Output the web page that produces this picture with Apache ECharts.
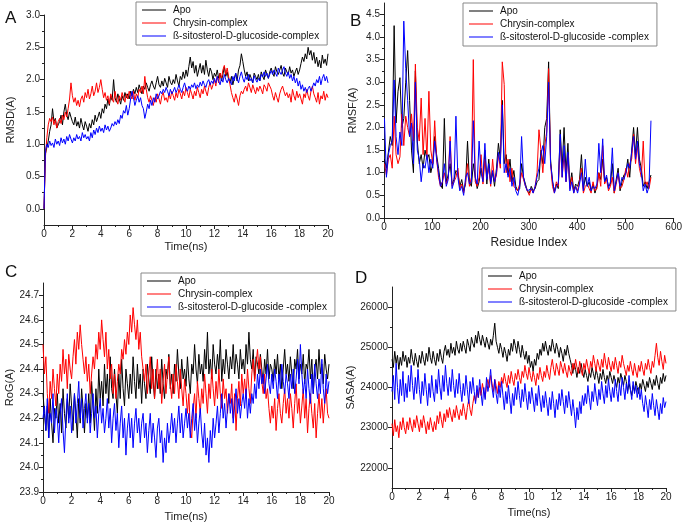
<!DOCTYPE html>
<html><head><meta charset="utf-8">
<script src="https://cdn.jsdelivr.net/npm/echarts@6/dist/echarts.min.js"></script>
<style>html,body{margin:0;padding:0;background:#fff}#c{width:685px;height:527px}</style>
</head><body><div id="c"></div>
<script>
// ---------- tick labels ----------
const timeTicks = [0,2,4,6,8,10,12,14,16,18,20];
const timeMinor = [1,3,5,7,9,11,13,15,17,19];
const rmsdTicks = [0,0.5,1,1.5,2,2.5,3];
const rmsdMinor = [0.25,0.75,1.25,1.75,2.25,2.75];
const rmsfTicks = [0,0.5,1,1.5,2,2.5,3,3.5,4,4.5];
const rmsfMinor = [0.25,0.75,1.25,1.75,2.25,2.75,3.25,3.75,4.25];
const resTicks = [0,100,200,300,400,500,600];
const resMinor = [50,150,250,350,450,550];
const rogTicks = [23.9,24.0,24.1,24.2,24.3,24.4,24.5,24.6,24.7];
const rogMinor = [23.95,24.05,24.15,24.25,24.35,24.45,24.55,24.65];
const sasaTicks = [22000,23000,24000,25000,26000];
const sasaMinor = [22500,23500,24500,25500];

// ---------- series names ----------
const nameApo = 'Apo';
const nameChr = 'Chrysin-complex';
const nameSitA = 'ß-sitosterol-D-glucoside-complex';
const nameSit = 'ß-sitosterol-D-glucoside -complex';

// sampling: time every 0.1 ns (0..20), residues every 4 (1..553)
const timeStep = 0.1;
const resStart = 1, resStep = 4;

// ---------- A: RMSD ----------
const rmsdApo = [0.00,0.85,0.95,1.05,1.20,1.30,1.55,1.35,1.40,1.25,1.30,
1.35,1.45,1.30,1.50,1.62,1.45,1.38,1.50,1.42,1.35,
1.30,1.42,1.28,1.35,1.25,1.40,1.30,1.22,1.35,1.28,
1.20,1.32,1.25,1.38,1.30,1.45,1.35,1.42,1.50,1.40,
1.55,1.48,1.62,1.55,1.70,1.60,1.75,1.68,2.00,1.72,
1.65,1.78,1.70,1.62,1.75,1.68,1.80,1.72,1.78,1.70,
1.82,1.75,1.85,1.78,1.88,1.80,1.92,1.85,1.78,1.90,
1.85,1.95,1.88,1.82,1.92,1.98,1.90,1.85,1.95,2.05,
1.92,1.88,1.98,1.90,2.02,1.95,1.88,2.05,1.96,1.92,
2.00,1.94,2.08,1.98,1.90,2.05,2.00,2.12,2.02,2.15,
2.05,2.20,2.35,2.18,2.28,2.10,2.22,2.05,2.15,2.25,
2.10,2.22,2.08,2.30,2.15,2.05,2.18,2.12,2.00,2.10,
2.05,2.15,2.02,2.10,1.98,2.08,2.20,2.05,2.12,2.00,
1.95,2.05,1.92,2.02,2.10,1.98,2.15,2.22,2.40,2.28,
2.15,2.05,2.12,1.98,2.08,2.02,1.95,2.10,2.05,2.00,
2.08,1.98,2.12,2.05,2.00,2.15,2.08,2.02,2.12,2.18,
2.10,2.05,2.20,2.12,2.08,2.15,2.22,2.10,2.05,2.18,
2.12,2.08,2.20,2.10,2.15,2.05,2.12,2.18,2.08,2.15,
2.25,2.35,2.28,2.40,2.32,2.50,2.38,2.45,2.30,2.42,
2.25,2.35,2.20,2.30,2.18,2.38,2.25,2.32,2.22,2.40];
const rmsdChr = [0.00,0.80,1.10,1.30,1.40,1.35,1.42,1.30,1.38,1.25,1.35,
1.40,1.32,1.45,1.38,1.50,1.42,1.55,1.70,1.95,1.75,
1.65,1.72,1.60,1.68,1.58,1.70,1.75,1.65,1.80,1.72,
1.85,1.70,1.78,1.90,1.75,1.82,1.95,1.80,1.88,2.00,
1.85,1.72,1.80,1.68,1.75,1.62,1.78,1.70,1.65,1.82,
1.70,1.62,1.75,1.68,1.80,1.72,1.65,1.78,1.70,1.82,
1.75,1.70,1.82,1.68,1.78,1.72,1.85,1.80,1.90,1.78,
2.05,1.85,1.72,1.65,1.75,1.68,1.60,1.72,1.65,1.78,
1.70,1.62,1.75,1.80,1.68,1.72,1.65,1.78,1.70,1.82,
1.75,1.68,1.80,1.72,1.85,1.78,1.70,1.82,1.75,1.88,
1.80,1.72,1.85,1.78,1.70,1.82,1.75,1.88,1.80,1.72,
1.85,1.78,1.90,1.82,1.75,1.88,1.95,1.85,1.92,2.00,
1.90,2.05,1.95,2.10,2.02,2.15,2.22,2.08,2.18,2.05,
1.92,1.80,1.72,1.65,1.78,1.70,1.60,1.75,1.82,1.78,
1.85,1.90,1.82,1.95,1.88,1.80,1.92,1.85,1.78,1.88,
1.82,1.90,1.85,1.78,1.92,1.88,1.82,1.95,1.90,1.85,
1.75,1.68,1.80,1.72,1.65,1.78,1.85,1.90,1.82,1.75,
1.80,1.72,1.78,1.65,1.85,1.75,1.68,1.82,1.72,1.78,
1.70,1.62,1.78,1.72,1.85,1.75,1.68,1.82,1.90,1.78,
1.72,1.65,1.80,1.62,1.75,1.70,1.82,1.68,1.78,1.72];
const rmsdSit = [0.00,0.90,1.00,0.95,1.05,0.98,1.02,0.95,1.08,1.00,1.05,
0.98,1.10,1.02,1.08,1.00,1.12,1.05,1.15,1.08,1.02,
1.10,1.05,1.15,1.08,1.12,1.05,1.18,1.10,1.15,1.08,
1.12,1.05,1.18,1.10,1.22,1.15,1.25,1.18,1.28,1.20,
1.25,1.18,1.30,1.22,1.28,1.20,1.25,1.32,1.28,1.35,
1.30,1.38,1.32,1.45,1.40,1.52,1.48,1.60,1.45,1.55,
1.70,1.82,1.72,1.60,1.68,1.75,1.65,1.72,1.60,1.55,
1.40,1.50,1.62,1.55,1.68,1.60,1.72,1.65,1.78,1.70,
1.75,1.82,1.78,1.85,1.80,1.88,1.82,1.75,1.85,1.78,
1.82,1.88,1.80,1.85,1.92,1.85,1.80,1.88,1.95,1.86,
1.82,1.90,1.85,1.92,1.88,1.95,1.86,1.92,1.88,1.96,
1.90,1.98,1.92,1.88,1.96,2.00,1.92,1.98,1.94,2.02,
1.95,2.05,1.98,1.92,2.02,1.96,2.08,2.00,1.95,2.02,
1.98,1.92,2.05,1.98,2.10,2.02,1.95,2.05,2.12,2.02,
1.96,2.05,2.00,2.08,1.98,2.02,1.95,2.06,2.00,1.96,
2.02,1.98,2.08,2.04,2.12,2.05,2.10,2.02,2.08,2.14,
2.08,2.15,2.10,2.05,2.18,2.12,2.08,2.15,2.20,2.10,
2.05,2.12,2.02,2.08,1.98,2.05,1.95,2.02,1.90,1.98,
1.85,1.92,1.82,1.88,1.80,1.86,1.90,1.82,1.88,1.95,
1.90,2.00,1.95,2.05,1.92,2.02,2.08,1.98,2.05,1.95];

// ---------- B: RMSF ----------
const rmsfApo = [1.30,1.10,1.45,1.80,1.60,4.25,2.10,2.80,3.10,2.00,
2.20,3.00,3.70,2.60,1.50,1.00,3.25,1.70,1.20,1.40,
1.10,1.50,1.30,1.40,1.00,1.20,1.80,1.40,1.10,0.75,
0.65,2.20,0.80,0.95,1.20,0.75,0.85,1.05,1.00,0.70,
0.85,0.60,0.75,1.70,0.80,0.70,1.20,0.90,0.65,0.80,
1.10,0.85,1.50,0.75,1.30,0.80,1.00,0.70,1.10,1.65,
1.30,2.60,1.20,1.40,0.95,1.30,0.80,1.05,0.70,0.60,
0.65,1.20,0.90,0.75,0.60,0.55,0.70,0.60,0.65,0.80,
0.85,1.50,1.20,2.00,2.20,3.45,1.30,0.80,0.60,0.75,
0.65,1.95,1.10,2.00,1.00,1.65,0.70,1.00,0.60,0.75,
0.70,0.85,1.40,0.65,0.90,0.70,0.80,0.60,0.75,0.55,
0.70,1.00,0.85,1.30,0.80,0.90,0.70,0.75,1.20,0.55,
0.85,1.10,0.60,0.80,0.95,1.00,1.30,0.90,1.50,2.00,
1.40,2.00,1.30,1.10,0.70,0.80,0.65,0.80,0.95];
const rmsfChr = [1.20,0.95,1.30,1.40,1.10,2.25,1.40,1.20,1.35,2.30,
1.60,2.25,2.00,1.80,2.30,1.70,3.40,2.00,1.70,2.65,
1.40,2.20,1.30,2.80,1.50,1.20,2.15,1.30,0.90,0.70,
0.80,1.00,0.75,0.90,1.80,0.70,0.80,0.90,1.10,0.65,
0.75,0.55,0.80,1.20,0.70,0.90,3.50,0.80,0.70,0.90,
1.40,0.75,1.30,0.90,1.10,0.70,1.30,0.80,0.95,1.40,
1.10,3.45,2.95,1.00,1.30,0.80,1.10,0.70,0.65,0.60,
0.75,1.00,0.85,0.70,0.60,0.50,0.65,0.55,0.70,1.00,
1.95,1.50,1.00,1.60,1.90,3.30,1.20,0.70,0.55,0.80,
0.70,1.70,0.90,1.40,0.80,1.40,0.65,0.90,0.55,0.70,
0.60,0.80,1.10,0.55,0.70,0.75,0.65,0.55,0.80,0.60,
0.65,1.00,0.70,1.60,0.75,0.85,0.60,0.70,0.90,0.55,
0.75,1.00,0.65,0.70,0.85,1.10,0.90,1.20,1.30,1.85,
1.20,1.60,1.10,0.90,1.70,0.70,0.80,0.65,0.90];
const rmsfSit = [2.20,0.90,1.40,1.60,1.70,3.05,1.80,1.40,1.90,1.60,
4.35,3.30,2.60,1.80,2.10,1.20,3.00,1.50,1.30,0.80,
1.20,1.10,1.40,1.00,1.30,1.10,1.70,1.30,1.00,0.70,
0.80,1.20,0.70,0.85,1.70,0.65,0.80,2.25,0.90,0.60,
0.70,0.50,0.90,1.00,0.75,0.80,2.15,0.90,0.75,1.70,
1.00,0.80,1.65,0.85,1.20,0.75,1.05,0.80,1.00,1.45,
1.20,2.50,1.00,1.20,0.90,1.10,0.70,0.90,0.60,0.50,
0.70,1.80,0.90,0.70,0.60,0.60,0.65,0.55,0.70,0.90,
1.10,1.40,1.60,1.20,1.80,3.00,1.20,0.85,0.55,0.70,
0.75,1.85,0.90,1.60,0.80,1.45,0.60,0.80,0.55,0.70,
0.55,0.75,1.00,0.60,1.30,0.70,0.90,0.60,0.70,0.65,
0.75,1.65,1.00,1.75,0.80,0.95,0.65,0.80,1.55,0.60,
0.80,1.00,0.70,0.90,0.85,1.00,1.20,1.10,1.45,1.80,
1.30,1.70,1.20,1.00,0.60,0.75,0.55,0.70,2.15];

// ---------- C: RoG ----------
const rogApo = [24.30,24.22,24.15,24.25,24.12,24.28,24.18,24.10,24.24,24.20,24.30,
24.18,24.26,24.14,24.32,24.22,24.16,24.28,24.20,24.34,24.25,
24.15,24.30,24.22,24.12,24.28,24.18,24.32,24.24,24.14,24.26,
24.20,24.30,24.18,24.35,24.25,24.15,24.32,24.22,24.40,24.28,
24.35,24.25,24.42,24.30,24.38,24.26,24.45,24.32,24.28,24.40,
24.30,24.22,24.38,24.28,24.44,24.32,24.25,24.40,24.34,24.28,
24.38,24.30,24.45,24.35,24.28,24.42,24.32,24.38,24.26,24.40,
24.34,24.28,24.42,24.36,24.30,24.45,24.35,24.28,24.40,24.32,
24.38,24.30,24.44,24.34,24.28,24.40,24.36,24.46,24.32,24.38,
24.30,24.42,24.35,24.48,24.38,24.32,24.44,24.36,24.40,24.33,
24.45,24.36,24.30,24.42,24.38,24.50,24.40,24.34,24.46,24.38,
24.42,24.35,24.48,24.40,24.55,24.38,24.44,24.36,24.50,24.42,
24.38,24.46,24.40,24.52,24.35,24.44,24.38,24.48,24.42,24.36,
24.45,24.40,24.50,24.38,24.46,24.42,24.36,24.48,24.40,24.44,
24.38,24.50,24.42,24.55,24.44,24.40,24.48,24.36,24.45,24.42,
24.38,24.46,24.40,24.34,24.44,24.38,24.48,24.36,24.42,24.40,
24.35,24.44,24.38,24.46,24.36,24.42,24.32,24.40,24.48,24.38,
24.42,24.35,24.45,24.38,24.32,24.44,24.40,24.48,24.36,24.42,
24.38,24.46,24.34,24.42,24.40,24.48,24.36,24.44,24.30,24.40,
24.44,24.36,24.48,24.38,24.42,24.34,24.46,24.40,24.36,24.42];
const rogChr = [24.50,24.38,24.45,24.30,24.22,24.35,24.28,24.40,24.32,24.25,24.38,
24.30,24.42,24.35,24.48,24.38,24.44,24.32,24.46,24.40,24.36,
24.45,24.52,24.42,24.55,24.48,24.58,24.50,24.44,24.38,24.45,
24.35,24.42,24.30,24.38,24.45,24.40,24.50,24.44,24.55,24.48,
24.60,24.52,24.45,24.55,24.40,24.48,24.36,24.42,24.30,24.38,
24.28,24.35,24.42,24.38,24.48,24.44,24.52,24.46,24.55,24.50,
24.62,24.55,24.65,24.58,24.52,24.60,24.48,24.55,24.45,24.40,
24.35,24.42,24.30,24.38,24.45,24.32,24.40,24.28,24.36,24.44,
24.32,24.40,24.26,24.35,24.42,24.30,24.38,24.45,24.34,24.28,
24.38,24.30,24.42,24.35,24.28,24.40,24.32,24.25,24.36,24.30,
24.22,24.30,24.15,24.12,24.24,24.30,24.20,24.35,24.28,24.22,
24.32,24.26,24.38,24.30,24.22,24.34,24.28,24.40,24.32,24.25,
24.35,24.28,24.40,24.30,24.24,24.36,24.28,24.32,24.22,24.30,
24.26,24.34,24.20,24.30,24.15,24.28,24.35,24.25,24.38,24.30,
24.36,24.28,24.40,24.32,24.26,24.38,24.44,24.35,24.42,24.48,
24.40,24.45,24.35,24.30,24.38,24.28,24.32,24.24,24.18,24.25,
24.20,24.28,24.15,24.24,24.30,24.22,24.18,24.26,24.32,24.22,
24.28,24.20,24.30,24.24,24.16,24.26,24.34,24.22,24.28,24.18,
24.25,24.32,24.20,24.28,24.14,24.24,24.30,24.22,24.16,24.26,
24.12,24.22,24.30,24.20,24.28,24.18,24.26,24.32,24.22,24.20];
const rogSit = [24.20,24.25,24.15,24.28,24.12,24.22,24.18,24.30,24.14,24.24,24.20,
24.10,24.22,24.28,24.15,24.06,24.20,24.30,24.18,24.25,24.14,
24.22,24.30,24.18,24.26,24.35,24.20,24.28,24.16,24.24,24.30,
24.18,24.26,24.14,24.22,24.30,24.20,24.25,24.12,24.22,24.28,
24.18,24.24,24.14,24.20,24.28,24.16,24.24,24.10,24.20,24.26,
24.15,24.22,24.08,24.18,24.25,24.12,24.20,24.05,24.16,24.22,
24.12,24.20,24.08,24.18,24.24,24.14,24.20,24.10,24.18,24.22,
24.12,24.18,24.06,24.15,24.22,24.10,24.18,24.12,24.04,24.16,
24.20,24.10,24.15,24.02,24.12,24.06,24.18,24.10,24.15,24.22,
24.14,24.20,24.10,24.18,24.25,24.14,24.22,24.12,24.18,24.24,
24.16,24.22,24.12,24.20,24.26,24.15,24.22,24.10,24.18,24.24,
24.14,24.08,24.18,24.05,24.12,24.02,24.15,24.08,24.20,24.12,
24.18,24.25,24.14,24.22,24.30,24.20,24.26,24.16,24.24,24.30,
24.22,24.28,24.18,24.25,24.32,24.22,24.28,24.20,24.26,24.30,
24.24,24.32,24.20,24.28,24.22,24.30,24.26,24.34,24.28,24.38,
24.32,24.40,24.34,24.38,24.30,24.36,24.42,24.34,24.30,24.38,
24.32,24.40,24.35,24.28,24.38,24.32,24.42,24.35,24.30,24.38,
24.34,24.28,24.38,24.32,24.40,24.30,24.36,24.44,24.34,24.50,
24.38,24.30,24.36,24.28,24.40,24.32,24.26,24.38,24.30,24.42,
24.34,24.28,24.36,24.30,24.44,24.32,24.26,24.38,24.30,24.35];

// ---------- D: SASA ----------
const sasaApo = [24700,24500,24900,24600,24800,24450,24750,24550,24900,24650,24800,
24500,24750,24600,24950,24700,24550,24850,24650,24500,24800,
24600,24900,24700,24550,24850,24650,25000,24750,24600,24900,
24700,24550,24850,24650,24950,24750,24600,24900,25050,24800,
24950,24750,25100,24850,25000,24800,25150,24950,24850,25100,
24900,25150,25000,24850,25200,25050,24900,25250,25100,25000,
25300,25100,25400,25200,25050,25300,25150,25000,25250,25100,
24950,25200,25050,25300,25600,25150,25000,24850,25100,24950,
24750,25000,24850,24650,24950,24800,25100,24900,25200,25050,
24850,25150,24950,24750,25050,24850,24700,24900,24600,24800,
24500,24650,24400,24700,24550,24850,24700,24950,24800,25100,
24900,25150,24950,24800,25050,24900,25200,25000,24850,25100,
24950,24750,25000,24850,24650,24950,24800,25050,24850,24700,
24550,24350,24600,24450,24250,24500,24350,24600,24400,24250,
24450,24300,24150,24400,24250,24500,24350,24200,24450,24300,
24100,24350,24200,24450,24250,24100,24300,24150,24400,24250,
24100,24300,24150,24000,24250,24100,24350,24200,24050,24300,
24150,23900,24100,23950,23800,24050,23900,24150,24000,23850,
24100,23950,24200,24050,23900,24150,24000,24250,24100,23950,
24200,24050,24300,24100,23950,24250,24100,24350,24150,24300];
const sasaChr = [23100,22800,23200,22900,23050,22750,23150,22950,23250,23000,22850,
23150,22950,23250,23050,22900,23200,23000,23300,23100,22900,
23200,23000,23300,23100,22850,23150,22950,23250,23050,22900,
23150,22950,23300,23100,23400,23200,23000,23350,23150,23450,
23250,23500,23300,23150,23450,23250,23550,23350,23200,23450,
23300,23600,23400,23200,23500,23700,23450,23300,23600,23800,
23650,23900,23750,24000,23800,24100,23900,23750,24050,24200,
24000,24300,24100,23900,24200,24050,23850,24150,24000,24250,
24100,24350,24150,24000,24300,24100,24400,24200,24050,24350,
24200,24450,24250,24100,24400,24250,24550,24350,24200,24500,
24300,24150,24400,24250,24050,24350,24200,24500,24300,24150,
24400,24250,24550,24350,24200,24500,24700,24450,24300,24600,
24450,24300,24650,24500,24350,24600,24400,24250,24550,24400,
24300,24600,24450,24700,24500,24350,24650,24450,24300,24600,
24450,24700,24500,24350,24650,24500,24800,24600,24400,24700,
24550,24400,24700,24500,24850,24600,24450,24750,24550,24400,
24650,24450,24750,24550,24350,24650,24500,24800,24600,24450,
24300,24550,24400,24650,24450,24300,24600,24400,24250,24550,
24400,24650,24450,24300,24600,24450,24700,24500,24350,24650,
24500,24800,25100,24750,24550,24900,24650,24450,24800,24600];
const sasaSit = [23900,24300,23700,24600,24000,23600,24200,23800,24400,23650,24100,
23750,24300,23900,24550,24050,23700,24250,23850,24450,23950,
23600,24150,23800,24350,23950,23550,24100,23750,24300,23900,
23650,24200,23850,24450,24000,23700,24300,23900,24550,24100,
23800,24250,23900,24450,24050,23750,24200,23850,24350,23950,
23650,24100,23800,24300,23950,23600,24150,23850,24250,23900,
23600,24050,23750,24200,23850,23550,24000,23700,24250,23900,
24100,24450,24000,23750,24200,23850,23600,24050,23750,24150,
23800,23450,23900,23600,24050,23700,23350,23850,23550,24000,
23700,24150,23800,23500,23950,23650,24100,23750,23450,23900,
23600,24000,23700,23400,23850,23550,24050,23700,23400,23800,
23500,23900,23600,23300,23750,23450,23900,23600,23250,23700,
23450,23850,23550,23950,23650,23350,23800,23500,23900,23600,
23300,23700,23400,23000,23500,23200,23650,23350,23800,23550,
23850,23600,24050,23750,23450,23900,23650,24100,23800,23550,
23950,23700,24150,23850,23600,24050,23750,24200,23900,23650,
24000,23750,24200,23900,23650,24100,23800,24250,24000,23700,
24100,23850,24300,23950,23700,24150,23850,24050,23750,24000,
23700,23950,23600,23400,23800,23550,23250,23700,23450,23850,
23550,23300,23700,23450,23200,23600,23350,23750,23500,23650];

// ---------- build ----------
const FONT = 'Liberation Sans, Arial, sans-serif';
const colApo = '#000000', colChr = '#ff0000', colSit = '#0000ff';
const tsPairs = v => v.map((y, i) => [+(i * timeStep).toFixed(2), y]);
const resPairs = v => v.map((y, i) => [resStart + i * resStep, y]);

function axisPair(dim, grid, min, max, majors, minors, fmt, name, nameGap, nameSize) {
  const position = dim === 'x' ? 'bottom' : 'left';
  const main = {
    type: 'value', gridIndex: grid, min, max, scale: true, position,
    axisLine: {show: true, onZero: false, lineStyle: {color: '#222', width: 1}},
    axisTick: {show: true, customValues: majors, length: 4, inside: false, lineStyle: {color: '#222'}},
    axisLabel: {show: true, customValues: majors, formatter: fmt, fontSize: 10, color: '#222', fontFamily: FONT, margin: 4},
    splitLine: {show: false},
    name, nameLocation: 'middle', nameGap,
    nameTextStyle: {fontSize: nameSize, color: '#222', fontFamily: FONT}
  };
  const minor = {
    type: 'value', gridIndex: grid, min, max, scale: true, position,
    axisLine: {show: false, onZero: false},
    axisTick: {show: true, customValues: minors, length: 2, inside: false, lineStyle: {color: '#222'}},
    axisLabel: {show: false}, splitLine: {show: false}
  };
  return [main, minor];
}
const f1 = v => v.toFixed(1);
const f0 = v => String(Math.round(v));

const grids = [
  {left: 44, top: 15, width: 284, height: 210},
  {left: 384, top: 3, width: 294, height: 215},
  {left: 43, top: 283, width: 286, height: 209},
  {left: 392, top: 287, width: 274, height: 201}
];

const xAxes = [].concat(
  axisPair('x', 0, 0, 20, timeTicks, timeMinor, f0, 'Time(ns)', 16, 11),
  axisPair('x', 1, 0, 600, resTicks, resMinor, f0, 'Residue Index', 19, 12),
  axisPair('x', 2, 0, 20, timeTicks, timeMinor, f0, 'Time(ns)', 19, 11),
  axisPair('x', 3, 0, 20, timeTicks, timeMinor, f0, 'Time(ns)', 19, 11)
);
const yAxes = [].concat(
  axisPair('y', 0, -0.25, 3.0, rmsdTicks, rmsdMinor, f1, 'RMSD(A)', 28, 11),
  axisPair('y', 1, 0, 4.75, rmsfTicks, rmsfMinor, f1, 'RMSF(A)', 26, 11),
  axisPair('y', 2, 23.9, 24.75, rogTicks, rogMinor, f1, 'RoG(A)', 27, 11),
  axisPair('y', 3, 21500, 26500, sasaTicks, sasaMinor, f0, 'SASA(A)', 32, 11)
);

function line(name, grid, data, color) {
  return {
    type: 'line', name, xAxisIndex: grid * 2, yAxisIndex: grid * 2, data,
    showSymbol: false, symbol: 'none', silent: true, clip: true,
    lineStyle: {color, width: 1}, itemStyle: {color}
  };
}
const series = [
  line(nameApo, 0, tsPairs(rmsdApo), colApo),
  line(nameChr, 0, tsPairs(rmsdChr), colChr),
  line(nameSitA, 0, tsPairs(rmsdSit), colSit),
  line(nameApo, 1, resPairs(rmsfApo), colApo),
  line(nameChr, 1, resPairs(rmsfChr), colChr),
  line(nameSit, 1, resPairs(rmsfSit), colSit),
  line(nameApo, 2, tsPairs(rogApo), colApo),
  line(nameChr, 2, tsPairs(rogChr), colChr),
  line(nameSit, 2, tsPairs(rogSit), colSit),
  line(nameApo, 3, tsPairs(sasaApo), colApo),
  line(nameChr, 3, tsPairs(sasaChr), colChr),
  line(nameSit, 3, tsPairs(sasaSit), colSit)
];

function legend(names, left, top) {
  return {
    data: names.map(n => ({name: n, icon: 'rect'})),
    left, top, orient: 'vertical', selectedMode: false,
    itemWidth: 24, itemHeight: 1, itemGap: 1,
    padding: [2, 8, 3, 6],
    borderColor: '#888', borderWidth: 1, backgroundColor: '#fff',
    textStyle: {fontSize: 10, color: '#111', fontFamily: FONT, lineHeight: 12, padding: [0, 0, 0, 2]}
  };
}
const legends = [
  legend([nameApo, nameChr, nameSitA], 136, 2),
  legend([nameApo, nameChr, nameSit], 463, 3),
  legend([nameApo, nameChr, nameSit], 141, 273),
  legend([nameApo, nameChr, nameSit], 482, 268)
];

const letters = [['A', 5, 10], ['B', 350, 13], ['C', 5, 264], ['D', 355, 270]].map(([t, x, y]) => ({
  type: 'text', left: x, top: y, style: {text: t, fontSize: 17, fill: '#111', fontFamily: FONT}
}));

const chart = echarts.init(document.getElementById('c'), null, {renderer: 'canvas'});
chart.setOption({
  animation: false,
  backgroundColor: '#fff',
  grid: grids,
  xAxis: xAxes,
  yAxis: yAxes,
  legend: legends,
  series,
  graphic: letters
});
</script></body></html>
